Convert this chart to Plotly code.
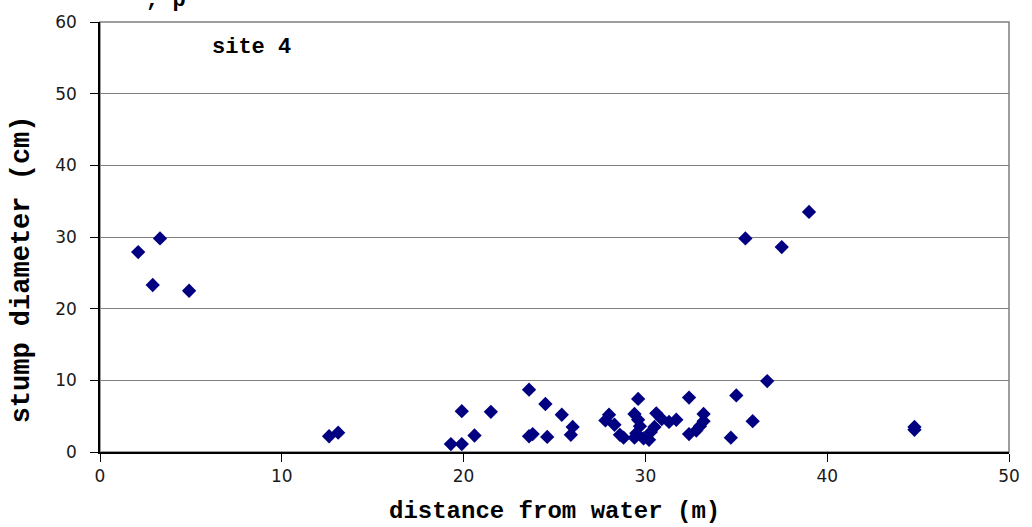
import plotly.graph_objects as go

# distance of each stump from the water's edge (m) and its diameter (cm)
distance_m = [2.1, 3.3, 2.9, 4.9, 12.6, 13.1, 19.3, 19.9, 19.9, 20.6, 21.5,
              23.6, 23.6, 23.8, 24.5, 24.6, 25.4, 25.9, 26.0, 28.0, 27.8,
              28.3, 28.6, 28.8, 29.4, 29.6, 29.4, 29.6, 29.7, 29.5, 29.9,
              30.2, 30.3, 30.5, 30.6, 30.9, 31.3, 31.7, 32.4, 32.4, 32.8,
              33.0, 33.2, 33.2, 34.7, 35.0, 35.9, 36.7, 35.5, 37.5, 39.0,
              44.8, 44.8]
diameter_cm = [27.9, 29.8, 23.3, 22.5, 2.2, 2.7, 1.1, 1.1, 5.7, 2.3, 5.6,
               8.7, 2.2, 2.5, 6.7, 2.1, 5.2, 2.4, 3.5, 5.2, 4.4,
               3.8, 2.4, 2.0, 2.0, 7.4, 5.3, 4.5, 3.6, 2.6, 1.9,
               1.7, 2.8, 3.5, 5.4, 4.6, 4.2, 4.5, 7.6, 2.5, 3.0,
               3.6, 5.3, 4.3, 2.0, 7.9, 4.3, 9.9, 29.8, 28.6, 33.5,
               3.5, 3.1]

x_ticks = [0, 10, 20, 30, 40, 50]
y_ticks = [0, 10, 20, 30, 40, 50, 60]

MONO = "Liberation Mono, Courier New, monospace"
SANS = "DejaVu Sans, Verdana, sans-serif"

fig = go.Figure(
    go.Scatter(
        x=distance_m,
        y=diameter_cm,
        mode="markers",
        marker=dict(symbol="diamond", size=11, color="#000080", line=dict(width=0)),
        showlegend=False,
    )
)

fig.update_layout(
    width=1032,
    height=527,
    margin=dict(l=100, r=22, t=19, b=75),
    paper_bgcolor="white",
    plot_bgcolor="white",
    font=dict(family=SANS, size=17, color="#000000"),
    xaxis=dict(
        range=[0, 50],
        tickvals=x_ticks,
        ticktext=[str(v) for v in x_ticks],
        showgrid=False,
        zeroline=False,
        showline=True,
        linecolor="#000000",
        linewidth=1.5,
        ticks="outside",
        ticklen=8,
        tickcolor="#000000",
        tickfont=dict(family=SANS, size=17, color="#1a1a1a"),
    ),
    yaxis=dict(
        range=[0, 60],
        tickvals=y_ticks,
        ticktext=[str(v) for v in y_ticks],
        showgrid=True,
        gridcolor="#7f7f7f",
        gridwidth=1,
        zeroline=False,
        showline=True,
        linecolor="#000000",
        linewidth=1.5,
        ticks="outside",
        ticklen=8,
        tickcolor="#000000",
        tickfont=dict(family=SANS, size=17, color="#1a1a1a"),
        ticklabelstandoff=10,
    ),
    shapes=[
        dict(type="rect", xref="paper", yref="paper", x0=0, y0=0, x1=1, y1=1,
             line=dict(color="#7f7f7f", width=1.5), layer="below"),
    ],
    annotations=[
        dict(text="<b>site 4</b>", x=8.35, y=56.4, xref="x", yref="y",
             showarrow=False, font=dict(family=MONO, size=22)),
        dict(text="<b>distance from water (m)</b>", x=0.5, y=-0.139,
             xref="paper", yref="paper", showarrow=False,
             xanchor="center", yanchor="middle",
             font=dict(family=MONO, size=24)),
        dict(text="<b>stump diameter (cm)</b>", x=-0.0857, y=0.425,
             xref="paper", yref="paper", showarrow=False, textangle=-90,
             xanchor="center", yanchor="middle",
             font=dict(family=MONO, size=27)),
        dict(text="<b>, p</b>", x=0.073, y=1.016, xref="paper", yref="paper",
             showarrow=False, xanchor="center", yanchor="bottom",
             font=dict(family=MONO, size=22)),
    ],
)

fig.write_html("out.html")
